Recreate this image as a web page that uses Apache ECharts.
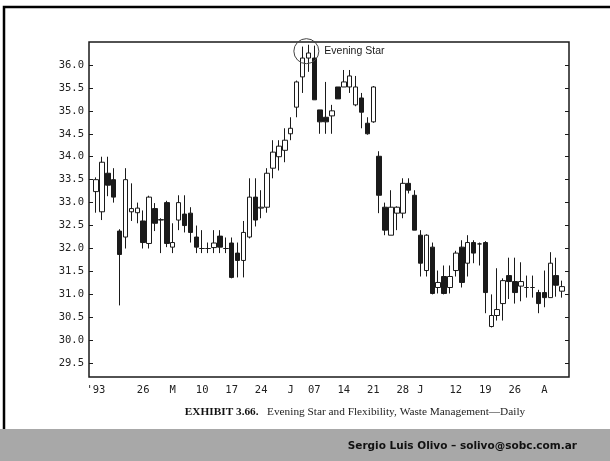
<!DOCTYPE html>
<html>
<head>
<meta charset="utf-8">
<script src="https://cdn.jsdelivr.net/npm/echarts@6.0.0/dist/echarts.min.js"></script>
<style>
html, body { margin: 0; padding: 0; background: #fff; }
#chart { width: 610px; height: 461px; }
</style>
</head>
<body>
<div id="chart"></div>
<script>
// trading days, Apr 14 - Aug 5 1993 (May 31 and Jul 5 closed)
const dates = [
  '04-14', '04-15', '04-16', '04-19', '04-20', '04-21', '04-22', '04-23', '04-26', '04-27',
  '04-28', '04-29', '04-30', '05-03', '05-04', '05-05', '05-06', '05-07', '05-10', '05-11',
  '05-12', '05-13', '05-14', '05-17', '05-18', '05-19', '05-20', '05-21', '05-24', '05-25',
  '05-26', '05-27', '05-28', '06-01', '06-02', '06-03', '06-04', '06-07', '06-08', '06-09',
  '06-10', '06-11', '06-14', '06-15', '06-16', '06-17', '06-18', '06-21', '06-22', '06-23',
  '06-24', '06-25', '06-28', '06-29', '06-30', '07-01', '07-02', '07-06', '07-07', '07-08',
  '07-09', '07-12', '07-13', '07-14', '07-15', '07-16', '07-19', '07-20', '07-21', '07-22',
  '07-23', '07-26', '07-27', '07-28', '07-29', '07-30', '08-02', '08-03', '08-04', '08-05'
]

// [open, close, low, high]
const prices = [
  [33.24, 33.50, 32.78, 33.55], [32.80, 33.88, 32.62, 34.00], [33.64, 33.38, 33.14, 34.00], [33.50, 33.12, 33.00, 33.75],
  [32.38, 31.87, 30.76, 32.42], [32.25, 33.50, 32.00, 33.75], [32.80, 32.87, 32.60, 33.42], [32.78, 32.88, 32.55, 33.00],
  [32.60, 32.13, 32.00, 32.83], [32.11, 33.12, 32.00, 33.15], [32.87, 32.55, 32.38, 32.99], [32.62, 32.63, 31.90, 32.66],
  [33.00, 32.11, 32.03, 33.04], [32.03, 32.13, 31.90, 32.55], [32.62, 33.00, 32.40, 33.16], [32.75, 32.50, 32.35, 33.16],
  [32.77, 32.35, 32.13, 32.90], [32.25, 32.03, 31.90, 32.50], [32.00, 32.00, 31.90, 32.40], [32.00, 32.00, 31.90, 32.13],
  [32.02, 32.12, 31.90, 32.40], [32.27, 32.03, 31.90, 32.40], [32.00, 32.00, 31.90, 32.24], [32.12, 31.37, 31.35, 32.24],
  [31.90, 31.74, 31.37, 32.13], [31.74, 32.35, 31.37, 32.60], [32.25, 33.12, 32.22, 33.53], [33.12, 32.62, 32.48, 33.53],
  [32.88, 32.90, 32.66, 33.27], [32.90, 33.64, 32.78, 33.75], [33.75, 34.10, 33.53, 34.36], [34.00, 34.23, 33.70, 34.36],
  [34.14, 34.36, 33.88, 34.62], [34.50, 34.62, 34.36, 34.86], [35.08, 35.63, 34.86, 35.66], [35.74, 36.15, 35.39, 36.40],
  [36.15, 36.26, 35.85, 36.44], [36.15, 35.24, 35.24, 36.42], [35.02, 34.76, 34.50, 35.02], [34.86, 34.76, 34.50, 35.63],
  [34.89, 35.00, 34.50, 35.13], [35.52, 35.26, 35.26, 35.52], [35.52, 35.63, 35.52, 35.89], [35.52, 35.76, 35.39, 35.89],
  [35.13, 35.52, 35.10, 35.76], [35.28, 34.97, 34.62, 35.39], [34.73, 34.50, 34.48, 34.86], [34.76, 35.52, 34.74, 35.54],
  [34.01, 33.16, 32.77, 34.12], [32.90, 32.40, 32.29, 33.00], [32.29, 32.90, 32.29, 33.27], [32.77, 32.90, 32.40, 32.92],
  [32.77, 33.42, 32.66, 33.53], [33.42, 33.27, 33.20, 33.53], [33.16, 32.40, 32.40, 33.27], [32.29, 31.68, 31.39, 32.40],
  [31.52, 32.29, 31.39, 32.31], [32.03, 31.02, 31.00, 32.13], [31.15, 31.26, 31.02, 31.52], [31.39, 31.02, 31.00, 31.63],
  [31.15, 31.39, 31.02, 31.63], [31.52, 31.90, 31.39, 31.95], [32.03, 31.26, 31.15, 32.18], [31.68, 32.13, 31.39, 32.29],
  [32.13, 31.90, 31.68, 32.18], [32.10, 32.10, 31.63, 32.13], [32.13, 31.04, 30.59, 32.16], [30.30, 30.54, 30.28, 31.00],
  [30.54, 30.67, 30.43, 31.57], [30.80, 31.30, 30.43, 31.35], [31.41, 31.28, 30.90, 31.80], [31.28, 31.04, 30.80, 31.80],
  [31.18, 31.28, 30.85, 31.70], [31.15, 31.15, 30.93, 31.41], [31.15, 31.15, 30.93, 31.41], [31.04, 30.80, 30.59, 31.10],
  [31.04, 30.93, 30.72, 31.52], [30.93, 31.68, 30.93, 31.92], [31.41, 31.20, 30.95, 31.80], [31.07, 31.17, 30.93, 31.30]
]

const tickDates = ['04-14', '04-26', '05-03', '05-10', '05-17', '05-24', '06-01', '06-07',
  '06-14', '06-21', '06-28', '07-01', '07-12', '07-19', '07-26', '08-02']
const tickTexts = ["'93", '26', 'M', '10', '17', '24', 'J', '07', '14', '21', '28', 'J', '12', '19', '26', 'A']
const priceTicks = [29.5, 30, 30.5, 31, 31.5, 32, 32.5, 33, 33.5, 34, 34.5, 35, 35.5, 36]
const starDay = '06-04'
const starPrice = 36.3

const isTick = (i, v) => tickDates.indexOf(v) >= 0
const ink = '#1a1a1a'
const mono = '"DejaVu Sans Mono", monospace'

const chart = echarts.init(document.getElementById('chart'))

const option = {
  animation: false,
  backgroundColor: '#fff',
  grid: [
    { left: 89, right: 41, top: 42, bottom: 84, show: true, borderColor: ink, borderWidth: 1.5 },
    { left: 93, right: 45, top: 42, bottom: 84 }
  ],
  xAxis: [
    { gridIndex: 0, type: 'value', min: 0, max: 1, show: false },
    {
      gridIndex: 1, type: 'category', data: dates, position: 'bottom',
      axisLine: { show: false },
      axisTick: { inside: true, length: 3, alignWithLabel: true, interval: isTick, lineStyle: { color: ink } },
      axisLabel: {
        interval: isTick,
        formatter: v => tickTexts[tickDates.indexOf(v)],
        margin: 8, fontFamily: mono, fontSize: 10.5, color: '#222'
      }
    },
    {
      gridIndex: 1, type: 'category', data: dates, position: 'top',
      axisLine: { show: false },
      axisTick: { inside: true, length: 3, alignWithLabel: true, interval: isTick, lineStyle: { color: ink } },
      axisLabel: { show: false }
    }
  ],
  yAxis: [
    {
      gridIndex: 0, type: 'value', min: 29.2, max: 36.5, position: 'left',
      axisLine: { show: false }, splitLine: { show: false },
      axisTick: { inside: true, length: 4, customValues: priceTicks, lineStyle: { color: ink } },
      axisLabel: {
        customValues: priceTicks, formatter: v => v.toFixed(1),
        margin: 5, fontFamily: mono, fontSize: 10.5, color: '#222'
      }
    },
    {
      gridIndex: 0, type: 'value', min: 29.2, max: 36.5, position: 'right',
      axisLine: { show: false }, splitLine: { show: false },
      axisTick: { inside: true, length: 4, customValues: priceTicks, lineStyle: { color: ink } },
      axisLabel: { show: false }
    },
    { gridIndex: 1, type: 'value', min: 29.2, max: 36.5, show: false }
  ],
  series: [
    {
      type: 'candlestick',
      xAxisIndex: 1,
      yAxisIndex: 2,
      data: prices,
      barWidth: 5,
      itemStyle: {
        color: '#fff', color0: ink,
        borderColor: ink, borderColor0: ink, borderWidth: 1
      },
      markPoint: {
        symbol: 'circle',
        symbolSize: 25,
        symbolOffset: [-2, 0],
        itemStyle: { color: 'rgba(0,0,0,0)', borderColor: '#444', borderWidth: 1 },
        label: {
          show: true, position: 'right', distance: 5, formatter: 'Evening Star',
          fontFamily: '"Liberation Sans", Arial', fontSize: 10.5, color: ink
        },
        data: [{ coord: [starDay, starPrice] }]
      }
    }
  ],
  graphic: [
    {
      type: 'rect', shape: { x: 4, y: 7, width: 640, height: 440 },
      style: { fill: 'none', stroke: '#000', lineWidth: 2.5 }
    },
    {
      type: 'rect', shape: { x: 0, y: 429, width: 610, height: 32 },
      style: { fill: '#a8a8a8' }
    },
    {
      type: 'text', x: 577, y: 446,
      style: {
        text: 'Sergio Luis Olivo – solivo@sobc.com.ar', align: 'right', verticalAlign: 'middle',
        font: 'bold 10.5px "DejaVu Sans"', fill: '#111'
      }
    },
    {
      type: 'text', x: 355, y: 412,
      style: {
        text: '{b|EXHIBIT 3.66.}   Evening Star and Flexibility, Waste Management\u2014Daily',
        align: 'center', verticalAlign: 'middle',
        font: '11.3px "Liberation Serif"', fill: '#222',
        rich: { b: { font: 'bold 11.3px "Liberation Serif"', fill: '#111' } }
      }
    }
  ]
}

chart.setOption(option)
</script>
</body>
</html>
